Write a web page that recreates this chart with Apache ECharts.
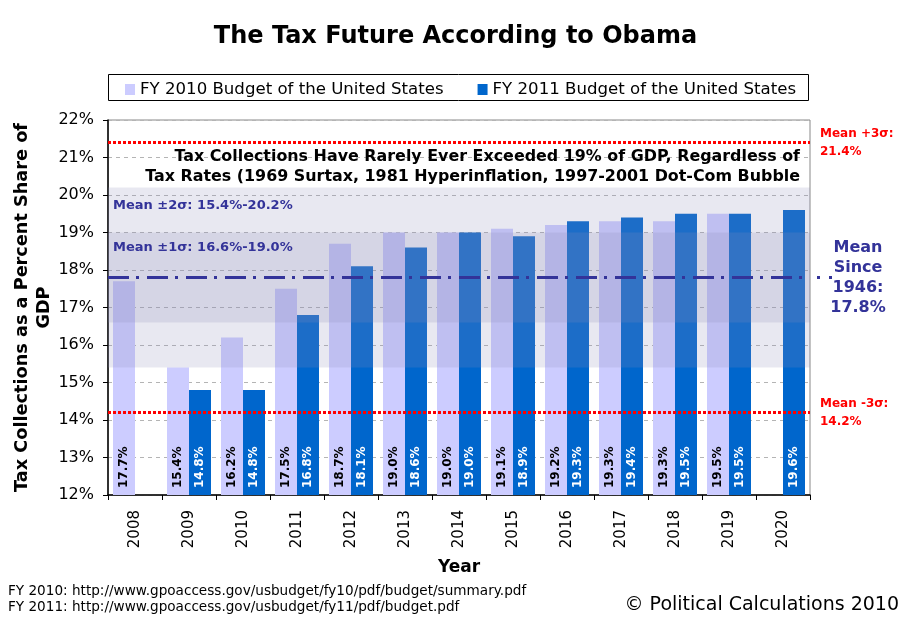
<!DOCTYPE html>
<html>
<head>
<meta charset="utf-8">
<script src="https://cdn.jsdelivr.net/npm/echarts@6/dist/echarts.min.js"></script>
<style>
html, body { margin: 0; padding: 0; background: #fff; }
#chart { width: 911px; height: 623px; }
</style>
</head>
<body>
<div id="chart"></div>
<script>
// data
const years = ['2008', '2009', '2010', '2011', '2012', '2013', '2014', '2015', '2016', '2017', '2018', '2019', '2020'];
const fy2010 = [17.7, 15.4, 16.2, 17.5, 18.7, 19.0, 19.0, 19.1, 19.2, 19.3, 19.3, 19.5, null];
const fy2011 = [null, 14.8, 14.8, 16.8, 18.1, 18.6, 19.0, 18.9, 19.3, 19.4, 19.5, 19.5, 19.6];
const meanSince1946 = 17.8;
const plus3Sigma = 21.4;
const minus3Sigma = 14.2;
const band2Sigma = [15.4, 20.2];
const band1Sigma = [16.6, 19.0];
const yMin = 12, yMax = 22, yStep = 1;

const FONT = 'DejaVu Sans';
const NAVY = '#333399';

const pct = v => v.toFixed(1) + '%';
const bandName = (k, b) => 'Mean ±' + k + 'σ: ' + pct(b[0]) + '-' + pct(b[1]);

const barLabel = color => ({
    show: true,
    position: 'insideBottom',
    rotate: 90,
    align: 'left',
    verticalAlign: 'middle',
    distance: 7,
    color: color,
    fontFamily: FONT,
    fontWeight: 'bold',
    fontSize: 12,
    formatter: p => pct(p.value)
});

const chart = echarts.init(document.getElementById('chart'));

const option = {
    backgroundColor: '#fff',
    animation: false,
    title: {
        text: 'The Tax Future According to Obama',
        left: 'center',
        top: 20,
        textStyle: { fontFamily: FONT, fontWeight: 'bold', fontSize: 24, color: '#000' }
    },
    legend: {
        left: 120,
        top: 76,
        icon: 'rect',
        itemWidth: 10,
        itemHeight: 11,
        itemGap: 34,
        textStyle: { fontFamily: FONT, fontSize: 16.6, color: '#000' },
        data: ['FY 2010 Budget of the United States', 'FY 2011 Budget of the United States']
    },
    grid: {
        left: 108, right: 101, top: 120, bottom: 128,
        outerBoundsMode: 'none',
        containLabel: false,
        show: true, borderColor: '#888', borderWidth: 1, backgroundColor: '#fff'
    },
    xAxis: {
        type: 'category',
        data: years,
        name: 'Year',
        nameLocation: 'middle',
        nameGap: 64,
        nameTextStyle: { fontFamily: FONT, fontWeight: 'bold', fontSize: 17, color: '#000' },
        axisLine: { lineStyle: { color: '#000', width: 1.5 } },
        axisTick: { show: true, length: 5, lineStyle: { color: '#000' } },
        axisLabel: { rotate: 90, fontFamily: FONT, fontSize: 15, color: '#000', margin: 15 },
        splitLine: { show: false }
    },
    yAxis: {
        type: 'value',
        min: yMin, max: yMax, interval: yStep,
        name: 'Tax Collections as a Percent Share of\nGDP',
        nameLocation: 'middle',
        nameGap: 53,
        nameMoveOverlap: false,
        nameTextStyle: { fontFamily: FONT, fontWeight: 'bold', fontSize: 17.7, color: '#000', lineHeight: 22, align: 'center' },
        axisLine: { show: true, lineStyle: { color: '#000', width: 1.5 } },
        axisTick: { show: true, length: 5, lineStyle: { color: '#000' } },
        axisLabel: { formatter: '{value}%', fontFamily: FONT, fontSize: 16, color: '#000', margin: 14 },
        splitLine: { show: true, lineStyle: { color: '#b4b4b4', type: [4, 4], width: 1 } }
    },
    series: [
        {
            name: 'FY 2010 Budget of the United States',
            type: 'bar',
            data: fy2010,
            barWidth: 22,
            barGap: '0%',
            itemStyle: { color: '#ccccff' },
            label: barLabel('#000'),
            markArea: {
                silent: true,
                z: 3,
                itemStyle: { color: 'rgba(140,140,185,0.2)' },
                label: {
                    position: 'insideTopLeft',
                    distance: 5,
                    color: NAVY,
                    fontFamily: FONT,
                    fontWeight: 'bold',
                    fontSize: 13
                },
                data: [
                    [{ yAxis: band2Sigma[0], name: bandName(2, band2Sigma), label: { offset: [0, 7] } }, { yAxis: band2Sigma[1] }],
                    [{ yAxis: band1Sigma[0], name: bandName(1, band1Sigma), label: { offset: [0, 4] } }, { yAxis: band1Sigma[1] }]
                ]
            }
        },
        {
            name: 'FY 2011 Budget of the United States',
            type: 'bar',
            data: fy2011,
            barWidth: 22,
            barGap: '0%',
            itemStyle: { color: '#0066cc' },
            label: barLabel('#fff'),
            markLine: {
                silent: true,
                symbol: 'none',
                data: [
                    {
                        yAxis: meanSince1946,
                        lineStyle: { color: NAVY, width: 3, type: [21, 7, 3, 8] },
                        label: {
                            show: true, position: 'end', align: 'center', distance: 48,
                            formatter: 'Mean\nSince\n1946:\n' + pct(meanSince1946),
                            color: NAVY, fontFamily: FONT, fontWeight: 'bold', fontSize: 16, lineHeight: 20
                        }
                    },
                    {
                        yAxis: plus3Sigma,
                        lineStyle: { color: '#ff0000', width: 3, type: [3, 2] },
                        label: {
                            show: true, position: 'end', align: 'left', distance: 10,
                            formatter: 'Mean +3σ:\n' + pct(plus3Sigma),
                            color: '#ff0000', fontFamily: FONT, fontWeight: 'bold', fontSize: 12, lineHeight: 18
                        }
                    },
                    {
                        yAxis: minus3Sigma,
                        lineStyle: { color: '#ff0000', width: 3, type: [3, 2] },
                        label: {
                            show: true, position: 'end', align: 'left', distance: 10,
                            formatter: 'Mean -3σ:\n' + pct(minus3Sigma),
                            color: '#ff0000', fontFamily: FONT, fontWeight: 'bold', fontSize: 12, lineHeight: 18
                        }
                    }
                ]
            }
        }
    ],
    graphic: [
        {
            id: 'legendBox',
            type: 'rect',
            shape: { x: 108.5, y: 74.5, width: 700, height: 26 },
            style: { fill: 'none', stroke: '#000', lineWidth: 1 },
            z: 0
        },
        {
            id: 'headline',
            type: 'text',
            x: 800, y: 167,
            z: 10,
            style: {
                text: 'Tax Collections Have Rarely Ever Exceeded 19% of GDP, Regardless of\nTax Rates (1969 Surtax, 1981 Hyperinflation, 1997-2001 Dot-Com Bubble',
                align: 'right', verticalAlign: 'middle',
                fontFamily: FONT, fontWeight: 'bold', fontSize: 15.9, lineHeight: 20, fill: '#000'
            }
        },
        {
            id: 'sources',
            type: 'text',
            x: 8, y: 599,
            style: {
                text: 'FY 2010: http://www.gpoaccess.gov/usbudget/fy10/pdf/budget/summary.pdf\nFY 2011: http://www.gpoaccess.gov/usbudget/fy11/pdf/budget.pdf',
                align: 'left', verticalAlign: 'middle',
                fontFamily: FONT, fontSize: 13.6, lineHeight: 16, fill: '#000'
            }
        },
        {
            id: 'copyright',
            type: 'text',
            x: 899, y: 605,
            style: {
                text: '© Political Calculations 2010',
                align: 'right', verticalAlign: 'middle',
                fontFamily: FONT, fontSize: 19, fill: '#000'
            }
        }
    ]
};

chart.setOption(option);

// the mean line runs a little past the plot edge toward its label
const meanY = chart.convertToPixel({ yAxisIndex: 0 }, meanSince1946);
const plotRight = chart.convertToPixel({ xAxisIndex: 0 }, years[years.length - 1]) + 27;
chart.setOption({
    graphic: [{
        id: 'meanTail',
        type: 'line',
        shape: { x1: plotRight + 7, y1: meanY, x2: plotRight + 24, y2: meanY },
        style: { stroke: NAVY, lineWidth: 3, lineDash: [3, 9] },
        z: 10
    }]
});
</script>
</body>
</html>
